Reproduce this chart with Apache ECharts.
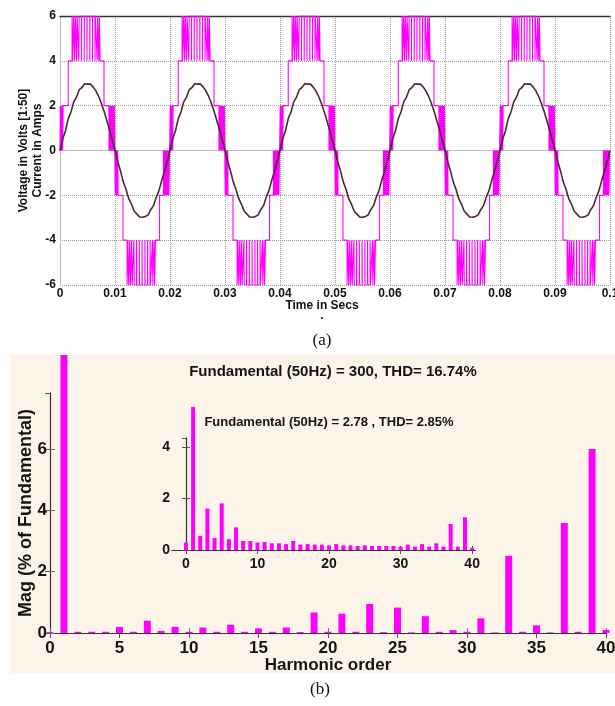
<!DOCTYPE html>
<html>
<head>
<meta charset="utf-8">
<script src="https://cdn.jsdelivr.net/npm/echarts@6.0.0/dist/echarts.min.js"></script>
<style>
  html, body { margin: 0; padding: 0; background: #ffffff; }
  #wave { position: absolute; left: 0; top: 0; width: 615px; height: 706px; }
  #spec { position: absolute; left: 10px; top: 355px; width: 605px; height: 318px; background: #fdf4e9; }
</style>
</head>
<body>
<div id="wave"></div>
<div id="spec"></div>
<script>
// ---------- (a) inverter output voltage and load current ----------
// start of each 20 ms mains cycle shown, in ms
const cycleStarts = [0, 20, 40, 60, 80];

// switching sequence of one cycle of the seven-level output: [time in ms, level in V/50]
const voltCycle = [
  [0, 0], [0.05, 2], [0.12, 0], [0.2, 2], [0.26, 0], [0.33, 2], [0.38, 0], [0.46, 2], [0.5, 0], [0.56, 2],
  [1.5, 4],
  [2.2, 6], [2.32, 4], [2.48, 6], [2.66, 4], [2.78, 6], [3.02, 4], [3.1, 6], [3.42, 4], [3.48, 6],
  [3.9, 4], [3.94, 6], [4.4, 4], [4.43, 6], [4.9, 4], [4.93, 6], [5.42, 4], [5.45, 6], [5.9, 4],
  [5.94, 6], [6.36, 4], [6.42, 6], [6.76, 4], [6.84, 6], [7.06, 4], [7.16, 6], [7.28, 4],
  [8.0, 2],
  [8.9, 0], [8.96, 2], [9.06, 0], [9.14, 2], [9.24, 0], [9.32, 2], [9.44, 0], [9.5, 2], [9.64, 0],
  [9.7, 2], [9.82, 0], [9.88, 2], [9.96, 0],
  [10.04, -2], [10.1, 0], [10.18, -2], [10.25, 0], [10.32, -2], [10.38, 0], [10.45, -2], [10.5, 0], [10.55, -2],
  [11.45, -4],
  [12.2, -6], [12.34, -4], [12.5, -6], [12.68, -4], [12.8, -6], [13.04, -4], [13.12, -6], [13.44, -4],
  [13.5, -6], [13.92, -4], [13.96, -6], [14.42, -4], [14.45, -6], [14.92, -4], [14.95, -6], [15.44, -4],
  [15.47, -6], [15.92, -4], [15.96, -6], [16.38, -4], [16.44, -6], [16.8, -4], [16.88, -6], [17.1, -4],
  [17.2, -6], [17.36, -4],
  [18.1, -2],
  [18.8, 0], [18.86, -2], [18.96, 0], [19.04, -2], [19.14, 0], [19.22, -2], [19.34, 0], [19.4, -2],
  [19.54, 0], [19.6, -2], [19.74, 0], [19.8, -2], [19.92, 0]
];

// load current over one cycle, sampled every 0.5 ms (A); small switching ripple included
const currentCycle = [
  0.00, 0.52, 0.88, 1.42, 1.72, 2.17, 2.38, 2.72, 2.81, 2.98,
  2.96, 2.97, 2.84, 2.67, 2.43, 2.12, 1.76, 1.35, 0.93, 0.47,
  0.02, -0.50, -0.91, -1.40, -1.73, -2.15, -2.40, -2.71, -2.84, -2.97,
  -2.98, -2.95, -2.88, -2.64, -2.46, -2.08, -1.79, -1.33, -0.94, -0.47
];
const currentStepMs = 0.5;

const voltData = [];
const currData = [];
cycleStarts.forEach(function (c) {
  voltCycle.forEach(function (p) { voltData.push([(c + p[0]) / 1000, p[1]]); });
  currentCycle.forEach(function (v, i) { currData.push([(c + i * currentStepMs) / 1000, v]); });
});
voltData.push([0.1, 0]);
currData.push([0.1, currentCycle[0]]);

const boldFont = '"Liberation Sans Narrow", "Liberation Sans", Arial, sans-serif';
const serifFont = '"Liberation Serif", "Times New Roman", serif';
const waveFont = 'Arial, "Liberation Sans", sans-serif';

const wave = echarts.init(document.getElementById('wave'), null, { renderer: 'canvas' });
wave.setOption({
  animation: false,
  grid: { left: 60, right: 5, top: 16, bottom: 421, outerBoundsMode: 'none' },
  xAxis: [{
    type: 'value', min: 0, max: 0.1, interval: 0.01,
    axisLine: { show: true, lineStyle: { color: '#bbbbbb', width: 1 } },
    axisTick: { show: false },
    axisLabel: { margin: 3, color: '#111', fontWeight: 'bold', fontSize: 12, fontFamily: waveFont },
    splitLine: { show: true, lineStyle: { color: '#9a9a9a', type: [1, 1], width: 1 } },
    name: 'Time in Secs', nameLocation: 'middle', nameGap: 15, nameMoveOverlap: false,
    nameTextStyle: { color: '#111', fontWeight: 'bold', fontSize: 12, fontFamily: waveFont, padding: [0, 26, 0, 0] }
  }, {
    type: 'value', min: 0, max: 0.1, position: 'top',
    axisLine: { show: true, lineStyle: { color: '#333333', width: 1.3 } },
    axisTick: { show: false }, axisLabel: { show: false }, splitLine: { show: false }
  }],
  yAxis: {
    type: 'value', min: -6, max: 6, interval: 2,
    axisLine: { show: true, lineStyle: { color: '#bbbbbb', width: 1 } },
    axisTick: { show: false },
    axisLabel: { margin: 4, color: '#111', fontWeight: 'bold', fontSize: 12, fontFamily: waveFont },
    splitLine: { show: true, lineStyle: { color: '#9a9a9a', type: [1, 1], width: 1 } },
    name: 'Voltage in Volts [1:50]\nCurrent in Amps', nameLocation: 'middle', nameGap: 15, nameMoveOverlap: false,
    nameTextStyle: { color: '#111', fontWeight: 'bold', fontSize: 12, lineHeight: 14, fontFamily: waveFont }
  },
  series: [{
    name: 'Voltage', type: 'line', step: 'end', showSymbol: false,
    data: voltData, lineStyle: { color: '#ff00ff', width: 1.1 }
  }, {
    name: 'Current', type: 'line', showSymbol: false,
    data: currData, lineStyle: { color: '#4a2a2c', width: 1.6 }
  }],
  graphic: [
    { type: 'text', x: 322, y: 316, style: { text: '.', font: 'bold 12px Arial', fill: '#111', align: 'center', verticalAlign: 'middle' } },
    { type: 'text', x: 322, y: 341, style: { text: '(a)', font: '17px ' + serifFont, fill: '#111', align: 'center', verticalAlign: 'middle' } },
    { type: 'text', x: 320, y: 690, style: { text: '(b)', font: '17px ' + serifFont, fill: '#111', align: 'center', verticalAlign: 'middle' } }
  ]
});

// ---------- (b) harmonic spectrum of the voltage, with current spectrum inset ----------
const harmonicOrders = [
  0, 1, 2, 3, 4, 5, 6, 7, 8, 9, 10, 11, 12, 13, 14, 15, 16, 17, 18, 19, 20,
  21, 22, 23, 24, 25, 26, 27, 28, 29, 30, 31, 32, 33, 34, 35, 36, 37, 38, 39, 40
];
// voltage harmonics, % of fundamental
const voltageMag = [
  0.03, 100, 0.04, 0.04, 0.04, 0.2, 0.04, 0.4, 0.07, 0.2, 0.04, 0.18, 0.04, 0.27, 0.04, 0.15,
  0.04, 0.18, 0.03, 0.67, 0.04, 0.63, 0.04, 0.95, 0.03, 0.83, 0.02, 0.55, 0.04, 0.1, 0.04,
  0.48, 0.02, 2.52, 0.04, 0.25, 0.02, 3.59, 0.04, 6.0, 0.1
];
// current harmonics (inset)
const currentMag = [
  0.29, 5.55, 0.55, 1.61, 0.47, 1.81, 0.42, 0.88, 0.35, 0.35, 0.29, 0.31, 0.26, 0.26, 0.23, 0.35,
  0.21, 0.23, 0.21, 0.21, 0.18, 0.23, 0.18, 0.18, 0.16, 0.18, 0.16, 0.16, 0.16, 0.16, 0.13,
  0.21, 0.13, 0.23, 0.13, 0.26, 0.13, 1.01, 0.13, 1.27, 0.09
];
const mainXTicks = [0, 5, 10, 15, 20, 25, 30, 35, 40];
const insetXTicks = [0, 10, 20, 30, 40];
const mainTitle = 'Fundamental (50Hz) = 300, THD= 16.74%';
const insetTitle = 'Fundamental (50Hz) = 2.78 , THD= 2.85%';

const txt = '#141414';
const spec = echarts.init(document.getElementById('spec'), null, { renderer: 'canvas' });
spec.setOption({
  animation: false,
  grid: [
    { left: 40, right: 9, top: 38, bottom: 40, outerBoundsMode: 'none' },
    { left: 162, top: 83, width: 303, height: 112, outerBoundsMode: 'none' }
  ],
  xAxis: [{
    gridIndex: 0, type: 'value', min: 0, max: 40,
    axisLine: { show: true, lineStyle: { color: '#777', width: 1 } },
    axisTick: { show: true, inside: true, length: 5, customValues: mainXTicks, lineStyle: { color: '#777' } },
    axisLabel: { customValues: mainXTicks, margin: 7, color: txt, fontWeight: 'bold', fontSize: 17, fontFamily: boldFont },
    splitLine: { show: false },
    name: 'Harmonic order', nameLocation: 'middle', nameGap: 24, nameMoveOverlap: false,
    nameTextStyle: { color: txt, fontWeight: 'bold', fontSize: 17, fontFamily: boldFont }
  }, {
    gridIndex: 0, type: 'value', min: 0, max: 40, position: 'top',
    axisLine: { show: true, lineStyle: { color: '#333', width: 1.2 } },
    axisTick: { show: true, inside: true, length: 5, customValues: mainXTicks, lineStyle: { color: '#555' } },
    axisLabel: { show: false }, splitLine: { show: false }
  }, {
    gridIndex: 1, type: 'value', min: -1.95, max: 40.4,
    axisLine: { show: true, lineStyle: { color: '#444', width: 1 } },
    axisTick: { show: true, inside: true, length: 4, customValues: insetXTicks, lineStyle: { color: '#555' } },
    axisLabel: { customValues: insetXTicks, margin: 7, color: txt, fontWeight: 'bold', fontSize: 14, fontFamily: boldFont },
    splitLine: { show: false }
  }, {
    gridIndex: 1, type: 'value', min: -1.95, max: 40.4, position: 'top',
    axisLine: { show: true, lineStyle: { color: '#333', width: 1.2 } },
    axisTick: { show: true, inside: true, length: 4, customValues: insetXTicks, lineStyle: { color: '#555' } },
    axisLabel: { show: false }, splitLine: { show: false }
  }],
  yAxis: [{
    gridIndex: 0, type: 'value', min: 0, max: 7.83, interval: 2,
    axisLine: { show: true, lineStyle: { color: '#777', width: 1 } },
    axisTick: { show: true, inside: true, length: 5, lineStyle: { color: '#777' } },
    axisLabel: { margin: 3, showMaxLabel: false, color: txt, fontWeight: 'bold', fontSize: 17, fontFamily: boldFont },
    splitLine: { show: false },
    name: 'Mag (% of Fundamental)', nameLocation: 'middle', nameGap: 15, nameMoveOverlap: false,
    nameTextStyle: { color: txt, fontWeight: 'bold', fontSize: 18, fontFamily: boldFont }
  }, {
    gridIndex: 0, type: 'value', min: 0, max: 7.83, interval: 2, position: 'right',
    axisLine: { show: true, lineStyle: { color: '#333', width: 1.2 } },
    axisTick: { show: true, inside: true, length: 5, lineStyle: { color: '#555' } },
    axisLabel: { show: false }, splitLine: { show: false }
  }, {
    gridIndex: 1, type: 'value', min: 0, max: 4.35, interval: 2,
    axisLine: { show: true, lineStyle: { color: '#444', width: 1 } },
    axisTick: { show: true, inside: true, length: 4, lineStyle: { color: '#555' } },
    axisLabel: { margin: 2, showMaxLabel: false, color: txt, fontWeight: 'bold', fontSize: 14, fontFamily: boldFont },
    splitLine: { show: false }
  }, {
    gridIndex: 1, type: 'value', min: 0, max: 4.35, interval: 2, position: 'right',
    axisLine: { show: true, lineStyle: { color: '#333', width: 1.2 } },
    axisTick: { show: true, inside: true, length: 4, lineStyle: { color: '#555' } },
    axisLabel: { show: false }, splitLine: { show: false }
  }],
  series: [{
    name: 'Voltage spectrum', type: 'bar', xAxisIndex: 0, yAxisIndex: 0, clip: false,
    barWidth: 7, itemStyle: { color: '#ff00ff' },
    data: harmonicOrders.map(function (h, i) { return [h, voltageMag[i]]; })
  }, {
    name: 'Current spectrum', type: 'bar', xAxisIndex: 2, yAxisIndex: 2, clip: false,
    barWidth: 4, itemStyle: { color: '#ff00ff' },
    data: harmonicOrders.map(function (h, i) { return [h, currentMag[i]]; })
  }],
  graphic: [
    { type: 'text', x: 323, y: 17, style: { text: mainTitle, font: 'bold 15px ' + boldFont, fill: txt, align: 'center', verticalAlign: 'middle' } },
    { type: 'text', x: 319, y: 67, style: { text: insetTitle, font: 'bold 13px ' + boldFont, fill: txt, align: 'center', verticalAlign: 'middle' } }
  ]
});
</script>
</body>
</html>
